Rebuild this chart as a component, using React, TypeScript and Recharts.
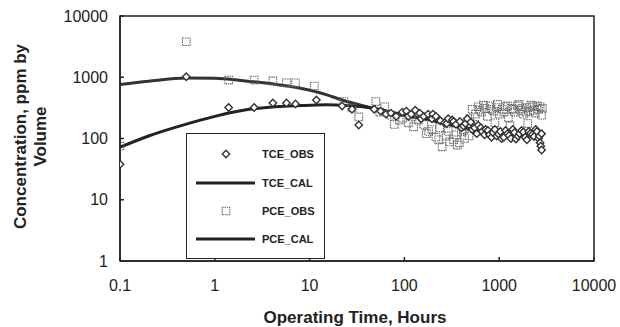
import {
  ComposedChart,
  Line,
  ReferenceArea,
  Scatter,
  XAxis,
  YAxis,
} from "recharts";

// observed TCE (hours, ppm by volume)
const tceObsHours = [
  0.1, 0.5, 1.4, 2.6, 4.1, 5.7, 7.1, 11.8, 22, 28, 33, 48, 56, 64, 72, 82, 95,
  105, 110, 118, 130, 145, 150, 160, 178, 195, 200, 215, 240, 265, 280, 290,
  320, 330, 350, 385, 400, 420, 440, 460, 500, 520, 550, 580, 600, 640, 660,
  700, 720, 760, 790, 830, 860, 900, 940, 980, 1030, 1060, 1120, 1170, 1220,
  1270, 1330, 1390, 1450, 1500, 1580, 1640, 1720, 1800, 1880, 1960, 2050, 2140,
  2230, 2330, 2430, 2500, 2600, 2650, 2700, 2750, 2800, 2800,
];
const tceObsPpm = [
  38, 1020, 320, 320, 380, 380, 365, 425, 340, 300, 166, 300, 280, 250, 260,
  230, 270, 280, 230, 250, 290, 260, 210, 230, 250, 210, 250, 230, 195, 180,
  175, 210, 200, 190, 170, 190, 150, 160, 175, 210, 185, 140, 150, 120, 165,
  150, 130, 115, 140, 135, 115, 105, 125, 140, 110, 118, 130, 100, 105, 135,
  120, 112, 100, 140, 125, 98, 110, 120, 135, 128, 105, 95, 130, 122, 115, 108,
  140, 130, 100, 110, 85, 75, 65, 120,
];

// observed PCE
const pceObsHours = [
  0.1, 0.5, 1.4, 2.6, 4.1, 5.7, 7.1, 11.2, 23, 28, 33, 50, 55, 62, 72, 78, 88,
  96, 110, 120, 125, 140, 160, 170, 180, 195, 215, 230, 235, 250, 275, 290,
  300, 330, 350, 360, 380, 400, 420, 430, 460, 480, 490, 520, 550, 560, 600,
  620, 650, 680, 700, 750, 800, 820, 870, 900, 930, 960, 1000, 1080, 1120,
  1160, 1220, 1250, 1300, 1350, 1400, 1450, 1560, 1620, 1680, 1740, 1800, 1900,
  1950, 2000, 2100, 2160, 2250, 2320, 2400, 2500, 2600, 2700, 2800, 2850,
];
const pceObsPpm = [
  75, 3800, 900, 900, 870, 810, 810, 720, 400, 315, 225, 400, 270, 330, 240,
  170, 200, 215, 180, 225, 155, 200, 170, 120, 130, 140, 105, 95, 150, 73, 110,
  130, 88, 95, 115, 78, 85, 128, 140, 100, 160, 110, 210, 300, 170, 250, 330,
  290, 270, 350, 310, 230, 340, 300, 280, 180, 320, 360, 250, 300, 270, 330,
  340, 220, 160, 310, 300, 270, 340, 360, 290, 310, 250, 270, 320, 175, 280,
  350, 330, 290, 260, 340, 300, 330, 240, 310,
];

// model curves
const tceCalHours = [
  0.1, 0.2, 0.5, 1, 1.4, 2, 3.8, 8, 15, 25, 45, 100, 200, 400, 1000, 3000,
];
const tceCalPpm = [
  72, 110, 172, 230, 260, 290, 325, 345, 355, 345, 315, 240, 195, 150, 125,
  120,
];
const pceCalHours = [
  0.1, 0.2, 0.5, 1, 2, 4, 8, 15, 22, 45, 100, 200, 400, 1000, 3000,
];
const pceCalPpm = [
  760, 860, 970, 960, 880, 780, 660, 520, 425, 315, 240, 200, 155, 125, 120,
];

const xTicks = [0.1, 1, 10, 100, 1000, 10000];
const yTicks = [1, 10, 100, 1000, 10000];

const legendItems = ["TCE_OBS", "TCE_CAL", "PCE_OBS", "PCE_CAL"];

const toPoints = (xs: number[], ys: number[]) =>
  xs.map((x, i) => ({ x, y: ys[i] }));

const tceObs = toPoints(tceObsHours, tceObsPpm);
const pceObs = toPoints(pceObsHours, pceObsPpm);
const tceCal = toPoints(tceCalHours, tceCalPpm);
const pceCal = toPoints(pceCalHours, pceCalPpm);

const FONT = '"Liberation Sans", Arial, sans-serif';
const INK = "#222";

const Diamond = (props: any) => {
  const { cx, cy } = props;
  if (cx == null || cy == null) return <g />;
  const r = 3.7;
  return (
    <path
      d={`M${cx},${cy - r}L${cx + r},${cy}L${cx},${cy + r}L${cx - r},${cy}Z`}
      fill="#fff"
      stroke="#333"
      strokeWidth={1.4}
    />
  );
};

const Square = (props: any) => {
  const { cx, cy } = props;
  if (cx == null || cy == null) return <g />;
  const h = 3.8;
  return (
    <rect
      x={cx - h}
      y={cy - h}
      width={h * 2}
      height={h * 2}
      fill="none"
      stroke="#666"
      strokeWidth={1.1}
      strokeDasharray="1.5 0.8"
    />
  );
};

function LegendBox() {
  const rowY = [21, 50, 78, 106];
  return (
    <div
      style={{
        position: "absolute",
        left: 186,
        top: 133,
        width: 139,
        height: 126,
        border: `1.5px solid ${INK}`,
        background: "#fff",
        boxSizing: "border-box",
      }}
    >
      <svg width={137} height={124} style={{ display: "block" }}>
        {legendItems.map((name, i) => {
          const y = rowY[i] - 1;
          const isLine = name.endsWith("CAL");
          return (
            <g key={name}>
              {isLine ? (
                <line
                  x1={9}
                  x2={68}
                  y1={y}
                  y2={y}
                  stroke={INK}
                  strokeWidth={3}
                />
              ) : name.startsWith("TCE") ? (
                <Diamond cx={39} cy={y} />
              ) : (
                <Square cx={39} cy={y} />
              )}
              <text
                x={75}
                y={y}
                dominantBaseline="central"
                fontFamily={FONT}
                fontSize={11}
                fontWeight="bold"
                fill={INK}
              >
                {name}
              </text>
            </g>
          );
        })}
      </svg>
    </div>
  );
}

function YLabel(props: any) {
  const { viewBox } = props;
  const cy = viewBox.y + viewBox.height / 2;
  return (
    <g fontFamily={FONT} fontSize={17} fontWeight="bold" fill={INK}>
      <text
        x={20}
        y={cy - 2}
        transform={`rotate(-90 20 ${cy - 2})`}
        textAnchor="middle"
        dominantBaseline="central"
      >
        Concentration, ppm by
      </text>
      <text
        x={40}
        y={cy - 2}
        transform={`rotate(-90 40 ${cy - 2})`}
        textAnchor="middle"
        dominantBaseline="central"
      >
        Volume
      </text>
    </g>
  );
}

function XLabel(props: any) {
  const { viewBox } = props;
  const cx = viewBox.x + viewBox.width / 2;
  return (
    <text
      x={cx - 2}
      y={317}
      textAnchor="middle"
      dominantBaseline="central"
      fontFamily={FONT}
      fontSize={17}
      fontWeight="bold"
      fill={INK}
    >
      Operating Time, Hours
    </text>
  );
}

function App() {
  const tick = { fill: INK, fontSize: 16, fontFamily: FONT };

  return (
    <div
      style={{
        position: "relative",
        width: 620,
        height: 327,
        background: "#fff",
      }}
    >
      <style>{`body { margin: 0; }`}</style>
      <ComposedChart
        width={620}
        height={327}
        margin={{ top: 16, right: 26, left: 0, bottom: 0 }}
      >
        <XAxis
          type="number"
          dataKey="x"
          scale="log"
          domain={[0.1, 10000]}
          ticks={xTicks}
          allowDataOverflow
          height={66}
          tick={tick}
          tickSize={-4}
          tickMargin={23}
          tickFormatter={(v) => String(v)}
          stroke={INK}
          strokeWidth={1.5}
          label={<XLabel />}
        />
        <YAxis
          type="number"
          dataKey="y"
          scale="log"
          domain={[1, 10000]}
          ticks={yTicks}
          allowDataOverflow
          width={120}
          tick={tick}
          tickSize={-4}
          tickMargin={16}
          stroke={INK}
          strokeWidth={1.5}
          label={<YLabel />}
        />
        <ReferenceArea
          x1={0.1}
          x2={10000}
          y1={1}
          y2={10000}
          fill="none"
          stroke={INK}
          strokeWidth={1.5}
          ifOverflow="visible"
        />
        <Line
          data={pceCal}
          dataKey="y"
          type="monotone"
          stroke="#333"
          strokeWidth={3}
          dot={false}
          isAnimationActive={false}
        />
        <Line
          data={tceCal}
          dataKey="y"
          type="monotone"
          stroke={INK}
          strokeWidth={3}
          dot={false}
          isAnimationActive={false}
        />
        <Scatter
          data={pceObs}
          dataKey="y"
          shape={Square}
          isAnimationActive={false}
        />
        <Scatter
          data={tceObs}
          dataKey="y"
          shape={Diamond}
          isAnimationActive={false}
        />
      </ComposedChart>
      <LegendBox />
    </div>
  );
}

export default App;
